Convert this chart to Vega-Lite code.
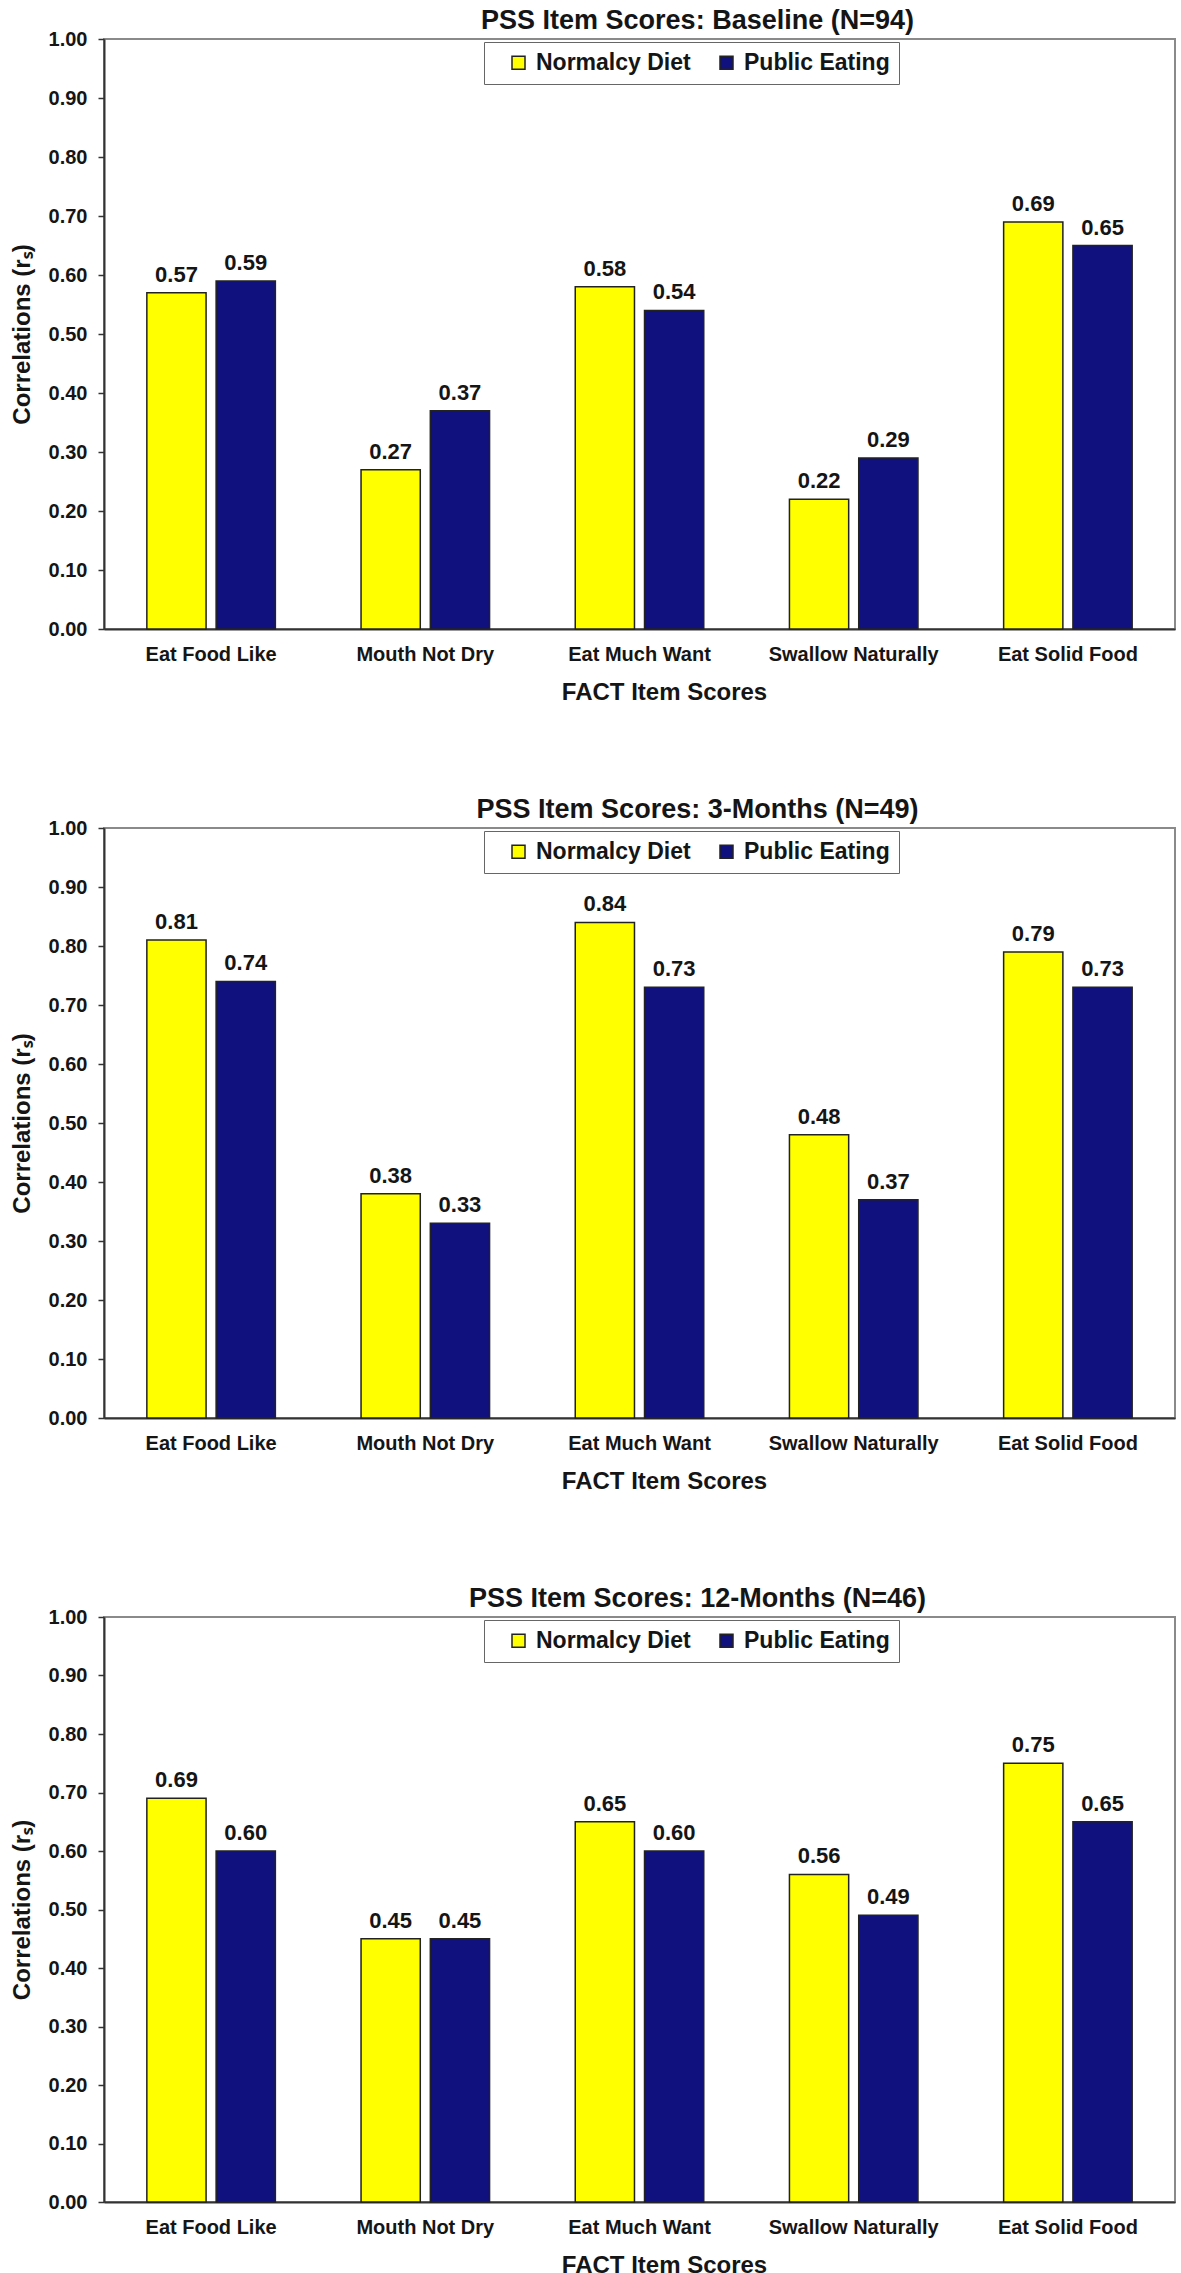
{
  "$schema": "https://vega.github.io/schema/vega-lite/v6.json",
  "padding": {"left": 9, "top": 6, "right": 0, "bottom": 0},
  "background": "white",
  "config": {
    "font": "Liberation Sans",
    "view": {"stroke": "#8a8a8a", "strokeWidth": 2},
    "title": {"font": "Liberation Sans", "fontSize": 27, "fontWeight": "bold", "color": "#151515", "anchor": "middle", "baseline": "bottom", "offset": -6, "dx": 58},
    "axis": {"labelFont": "Liberation Sans", "titleFont": "Liberation Sans", "labelColor": "#151515", "titleColor": "#151515", "domainColor": "#333333", "domainWidth": 2, "tickColor": "#333333", "tickWidth": 1.5, "grid": false}
  },
  "data": {"values": [
    {"panel": "Baseline", "item": "Eat Food Like", "measure": "Normalcy Diet", "value": 0.57},
    {"panel": "Baseline", "item": "Eat Food Like", "measure": "Public Eating", "value": 0.59},
    {"panel": "Baseline", "item": "Mouth Not Dry", "measure": "Normalcy Diet", "value": 0.27},
    {"panel": "Baseline", "item": "Mouth Not Dry", "measure": "Public Eating", "value": 0.37},
    {"panel": "Baseline", "item": "Eat Much Want", "measure": "Normalcy Diet", "value": 0.58},
    {"panel": "Baseline", "item": "Eat Much Want", "measure": "Public Eating", "value": 0.54},
    {"panel": "Baseline", "item": "Swallow Naturally", "measure": "Normalcy Diet", "value": 0.22},
    {"panel": "Baseline", "item": "Swallow Naturally", "measure": "Public Eating", "value": 0.29},
    {"panel": "Baseline", "item": "Eat Solid Food", "measure": "Normalcy Diet", "value": 0.69},
    {"panel": "Baseline", "item": "Eat Solid Food", "measure": "Public Eating", "value": 0.65},
    {"panel": "3-Months", "item": "Eat Food Like", "measure": "Normalcy Diet", "value": 0.81},
    {"panel": "3-Months", "item": "Eat Food Like", "measure": "Public Eating", "value": 0.74},
    {"panel": "3-Months", "item": "Mouth Not Dry", "measure": "Normalcy Diet", "value": 0.38},
    {"panel": "3-Months", "item": "Mouth Not Dry", "measure": "Public Eating", "value": 0.33},
    {"panel": "3-Months", "item": "Eat Much Want", "measure": "Normalcy Diet", "value": 0.84},
    {"panel": "3-Months", "item": "Eat Much Want", "measure": "Public Eating", "value": 0.73},
    {"panel": "3-Months", "item": "Swallow Naturally", "measure": "Normalcy Diet", "value": 0.48},
    {"panel": "3-Months", "item": "Swallow Naturally", "measure": "Public Eating", "value": 0.37},
    {"panel": "3-Months", "item": "Eat Solid Food", "measure": "Normalcy Diet", "value": 0.79},
    {"panel": "3-Months", "item": "Eat Solid Food", "measure": "Public Eating", "value": 0.73},
    {"panel": "12-Months", "item": "Eat Food Like", "measure": "Normalcy Diet", "value": 0.69},
    {"panel": "12-Months", "item": "Eat Food Like", "measure": "Public Eating", "value": 0.60},
    {"panel": "12-Months", "item": "Mouth Not Dry", "measure": "Normalcy Diet", "value": 0.45},
    {"panel": "12-Months", "item": "Mouth Not Dry", "measure": "Public Eating", "value": 0.45},
    {"panel": "12-Months", "item": "Eat Much Want", "measure": "Normalcy Diet", "value": 0.65},
    {"panel": "12-Months", "item": "Eat Much Want", "measure": "Public Eating", "value": 0.60},
    {"panel": "12-Months", "item": "Swallow Naturally", "measure": "Normalcy Diet", "value": 0.56},
    {"panel": "12-Months", "item": "Swallow Naturally", "measure": "Public Eating", "value": 0.49},
    {"panel": "12-Months", "item": "Eat Solid Food", "measure": "Normalcy Diet", "value": 0.75},
    {"panel": "12-Months", "item": "Eat Solid Food", "measure": "Public Eating", "value": 0.65}
  ]},
  "spacing": 90,
  "resolve": {"scale": {"color": "independent"}, "legend": {"color": "independent"}},
  "vconcat": [
    {
      "title": {"text": "PSS Item Scores: Baseline (N=94)"},
      "width": 1071, "height": 590,
      "transform": [{"filter": "datum.panel == 'Baseline'"}],
      "encoding": {
        "x": {"field": "item", "type": "nominal", "sort": ["Eat Food Like", "Mouth Not Dry", "Eat Much Want", "Swallow Naturally", "Eat Solid Food"], "scale": {"paddingInner": 0.4, "paddingOuter": 0.2},
          "axis": {"title": "FACT Item Scores", "titleFontSize": 24, "titleFontWeight": "bold", "titlePadding": 16, "titleX": 560, "titleAlign": "center", "labelFontSize": 20, "labelFontWeight": "bold", "labelAngle": 0, "ticks": false, "labelPadding": 15}},
        "xOffset": {"field": "measure", "type": "nominal", "sort": ["Normalcy Diet", "Public Eating"], "scale": {"paddingInner": 0.145, "paddingOuter": 0}},
        "y": {"field": "value", "type": "quantitative", "scale": {"domain": [0, 1], "nice": false},
          "axis": {"title": "Correlations (rₛ)", "titleFontSize": 24, "titleFontWeight": "bold", "titlePadding": 14, "values": [0, 0.1, 0.2, 0.3, 0.4, 0.5, 0.6, 0.7, 0.8, 0.9, 1.0], "format": ".2f", "labelFontSize": 20, "labelFontWeight": "bold", "tickSize": 6, "labelPadding": 11}}
      },
      "layer": [
        {"mark": {"type": "bar", "stroke": "#222222", "strokeWidth": 1.5},
         "encoding": {"color": {"field": "measure", "type": "nominal", "scale": {"domain": ["Normalcy Diet", "Public Eating"], "range": ["#FFFF00", "#10107F"]},
           "legend": {"title": null, "orient": "none", "legendX": 380, "legendY": 3, "direction": "horizontal", "strokeColor": "#666666", "fillColor": "white", "padding": 9, "symbolType": "square", "symbolSize": 169, "symbolStrokeColor": "#222222", "symbolStrokeWidth": 1.5, "symbolOffset": 14, "labelOffset": 6, "columnPadding": 10, "labelFontSize": 23, "labelFontWeight": "bold", "labelColor": "#151515", "labelFont": "Liberation Sans", "labelLimit": 300}}}},
        {"mark": {"type": "text", "baseline": "alphabetic", "dy": -11, "fontSize": 22, "fontWeight": "bold", "color": "#151515", "font": "Liberation Sans"},
         "encoding": {"text": {"field": "value", "type": "quantitative", "format": ".2f"}}}
      ]
    },
    {
      "title": {"text": "PSS Item Scores: 3-Months (N=49)"},
      "width": 1071, "height": 590,
      "transform": [{"filter": "datum.panel == '3-Months'"}],
      "encoding": {
        "x": {"field": "item", "type": "nominal", "sort": ["Eat Food Like", "Mouth Not Dry", "Eat Much Want", "Swallow Naturally", "Eat Solid Food"], "scale": {"paddingInner": 0.4, "paddingOuter": 0.2},
          "axis": {"title": "FACT Item Scores", "titleFontSize": 24, "titleFontWeight": "bold", "titlePadding": 16, "titleX": 560, "titleAlign": "center", "labelFontSize": 20, "labelFontWeight": "bold", "labelAngle": 0, "ticks": false, "labelPadding": 15}},
        "xOffset": {"field": "measure", "type": "nominal", "sort": ["Normalcy Diet", "Public Eating"], "scale": {"paddingInner": 0.145, "paddingOuter": 0}},
        "y": {"field": "value", "type": "quantitative", "scale": {"domain": [0, 1], "nice": false},
          "axis": {"title": "Correlations (rₛ)", "titleFontSize": 24, "titleFontWeight": "bold", "titlePadding": 14, "values": [0, 0.1, 0.2, 0.3, 0.4, 0.5, 0.6, 0.7, 0.8, 0.9, 1.0], "format": ".2f", "labelFontSize": 20, "labelFontWeight": "bold", "tickSize": 6, "labelPadding": 11}}
      },
      "layer": [
        {"mark": {"type": "bar", "stroke": "#222222", "strokeWidth": 1.5},
         "encoding": {"color": {"field": "measure", "type": "nominal", "scale": {"domain": ["Normalcy Diet", "Public Eating"], "range": ["#FFFF00", "#10107F"]},
           "legend": {"title": null, "orient": "none", "legendX": 380, "legendY": 3, "direction": "horizontal", "strokeColor": "#666666", "fillColor": "white", "padding": 9, "symbolType": "square", "symbolSize": 169, "symbolStrokeColor": "#222222", "symbolStrokeWidth": 1.5, "symbolOffset": 14, "labelOffset": 6, "columnPadding": 10, "labelFontSize": 23, "labelFontWeight": "bold", "labelColor": "#151515", "labelFont": "Liberation Sans", "labelLimit": 300}}}},
        {"mark": {"type": "text", "baseline": "alphabetic", "dy": -11, "fontSize": 22, "fontWeight": "bold", "color": "#151515", "font": "Liberation Sans"},
         "encoding": {"text": {"field": "value", "type": "quantitative", "format": ".2f"}}}
      ]
    },
    {
      "title": {"text": "PSS Item Scores: 12-Months (N=46)"},
      "width": 1071, "height": 585,
      "transform": [{"filter": "datum.panel == '12-Months'"}],
      "encoding": {
        "x": {"field": "item", "type": "nominal", "sort": ["Eat Food Like", "Mouth Not Dry", "Eat Much Want", "Swallow Naturally", "Eat Solid Food"], "scale": {"paddingInner": 0.4, "paddingOuter": 0.2},
          "axis": {"title": "FACT Item Scores", "titleFontSize": 24, "titleFontWeight": "bold", "titlePadding": 16, "titleX": 560, "titleAlign": "center", "labelFontSize": 20, "labelFontWeight": "bold", "labelAngle": 0, "ticks": false, "labelPadding": 15}},
        "xOffset": {"field": "measure", "type": "nominal", "sort": ["Normalcy Diet", "Public Eating"], "scale": {"paddingInner": 0.145, "paddingOuter": 0}},
        "y": {"field": "value", "type": "quantitative", "scale": {"domain": [0, 1], "nice": false},
          "axis": {"title": "Correlations (rₛ)", "titleFontSize": 24, "titleFontWeight": "bold", "titlePadding": 14, "values": [0, 0.1, 0.2, 0.3, 0.4, 0.5, 0.6, 0.7, 0.8, 0.9, 1.0], "format": ".2f", "labelFontSize": 20, "labelFontWeight": "bold", "tickSize": 6, "labelPadding": 11}}
      },
      "layer": [
        {"mark": {"type": "bar", "stroke": "#222222", "strokeWidth": 1.5},
         "encoding": {"color": {"field": "measure", "type": "nominal", "scale": {"domain": ["Normalcy Diet", "Public Eating"], "range": ["#FFFF00", "#10107F"]},
           "legend": {"title": null, "orient": "none", "legendX": 380, "legendY": 3, "direction": "horizontal", "strokeColor": "#666666", "fillColor": "white", "padding": 9, "symbolType": "square", "symbolSize": 169, "symbolStrokeColor": "#222222", "symbolStrokeWidth": 1.5, "symbolOffset": 14, "labelOffset": 6, "columnPadding": 10, "labelFontSize": 23, "labelFontWeight": "bold", "labelColor": "#151515", "labelFont": "Liberation Sans", "labelLimit": 300}}}},
        {"mark": {"type": "text", "baseline": "alphabetic", "dy": -11, "fontSize": 22, "fontWeight": "bold", "color": "#151515", "font": "Liberation Sans"},
         "encoding": {"text": {"field": "value", "type": "quantitative", "format": ".2f"}}}
      ]
    }
  ]
}
